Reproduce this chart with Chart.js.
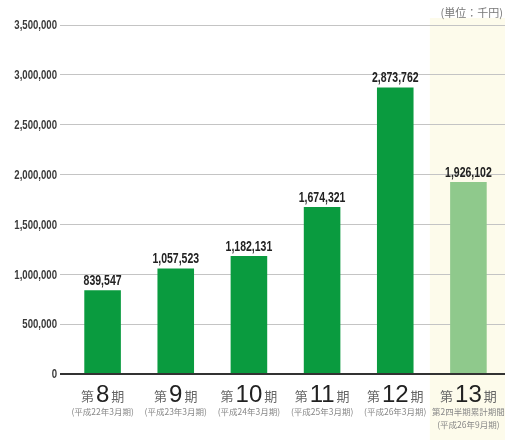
<!DOCTYPE html>
<html>
<head>
<meta charset="utf-8">
<script src="https://cdn.jsdelivr.net/npm/chart.js@4"></script>
<style>
  html, body { margin: 0; padding: 0; background: #fff; }
  #wrap { width: 505px; height: 440px; position: relative; }
</style>
</head>
<body>
<div id="wrap"><canvas id="c" width="505" height="440"></canvas></div>
<script>
// ── Data ──────────────────────────────────────────────────────────────────────
const periods   = ['8', '9', '10', '11', '12', '13'];
const subLabels = [
  ['(平成22年3月期)'],
  ['(平成23年3月期)'],
  ['(平成24年3月期)'],
  ['(平成25年3月期)'],
  ['(平成26年3月期)'],
  ['第2四半期累計期間', '(平成26年9月期)'],
];
const sales     = [839547, 1057523, 1182131, 1674321, 2873762, 1926102];
const barColors = ['#0a9b3f', '#0a9b3f', '#0a9b3f', '#0a9b3f', '#0a9b3f', '#8fc98c'];
const yTicks    = [0, 500000, 1000000, 1500000, 2000000, 2500000, 3000000, 3500000];
const unitLabel = '(単位：千円)';

const SANS = '"Liberation Sans", sans-serif';
const JP   = '"Noto Sans CJK JP", sans-serif';

// draw text squeezed horizontally (condensed look)
function narrowText(ctx, text, x, y, sx) {
  ctx.save();
  ctx.translate(x, y);
  ctx.scale(sx, 1);
  ctx.fillText(text, 0, 0);
  ctx.restore();
}

// ── Plugins ───────────────────────────────────────────────────────────────────
const bandPlugin = {
  id: 'band',
  beforeDraw(chart) {
    const { ctx, scales: { x } } = chart;
    const last = periods.length - 1;
    const half = (x.getPixelForValue(last) - x.getPixelForValue(last - 1)) / 2;
    ctx.save();
    ctx.fillStyle = '#fdfbeb';
    ctx.fillRect(x.getPixelForValue(last) - half - 2, 18, half * 2 + 12, chart.height);
    ctx.restore();
  },
};

const labelPlugin = {
  id: 'labels',
  afterDraw(chart) {
    const { ctx, scales: { x, y } } = chart;
    ctx.save();

    // y tick labels
    ctx.fillStyle = '#3a3a3a';
    ctx.font = 'bold 12px ' + SANS;
    ctx.textAlign = 'right';
    ctx.textBaseline = 'middle';
    yTicks.forEach(v => {
      narrowText(ctx, v.toLocaleString('en-US'), 57, y.getPixelForValue(v) + 1, 0.8);
    });

    // value labels above bars
    ctx.fillStyle = '#222';
    ctx.font = 'bold 15px ' + SANS;
    ctx.textAlign = 'center';
    ctx.textBaseline = 'bottom';
    sales.forEach((v, i) => {
      narrowText(ctx, v.toLocaleString('en-US'), x.getPixelForValue(i), y.getPixelForValue(v) - 2, 0.7);
    });

    // category labels: 第 N 期
    const base = y.getPixelForValue(0);
    periods.forEach((p, i) => {
      const cx = x.getPixelForValue(i);
      ctx.font = '13px ' + JP;
      const wK = ctx.measureText('第').width;
      ctx.font = '24px ' + SANS;
      const wN = ctx.measureText(p).width;
      const total = wK * 2 + wN + 4;
      let px = cx - total / 2;
      ctx.textAlign = 'left';
      ctx.textBaseline = 'alphabetic';
      ctx.fillStyle = '#666';
      ctx.font = '13px ' + JP;
      ctx.fillText('第', px, base + 27);
      px += wK + 2;
      ctx.fillStyle = '#222';
      ctx.font = '24px ' + SANS;
      ctx.fillText(p, px, base + 28);
      px += wN + 2;
      ctx.fillStyle = '#666';
      ctx.font = '13px ' + JP;
      ctx.fillText('期', px, base + 27);

      ctx.textAlign = 'center';
      ctx.fillStyle = '#888';
      ctx.font = '8.5px ' + JP;
      subLabels[i].forEach((s, j) => {
        ctx.fillText(s, cx, base + 41 + j * 13);
      });
    });

    // unit label
    ctx.textAlign = 'right';
    ctx.fillStyle = '#777';
    ctx.font = '11px ' + JP;
    ctx.fillText(unitLabel, 503, 17);

    ctx.restore();
  },
};

// ── Chart ─────────────────────────────────────────────────────────────────────
new Chart(document.getElementById('c').getContext('2d'), {
  type: 'bar',
  data: {
    labels: periods,
    datasets: [{
      data: sales,
      backgroundColor: barColors,
      borderWidth: 0,
      barPercentage: 0.5,
      categoryPercentage: 1,
    }],
  },
  options: {
    responsive: false,
    animation: false,
    layout: { padding: { top: 25, bottom: 0, left: 0, right: 0 } },
    plugins: { legend: { display: false }, tooltip: { enabled: false } },
    scales: {
      x: {
        grid: { display: false, drawTicks: false },
        border: { display: false },
        ticks: { display: false },
        afterFit: s => { s.height = 66; },
      },
      y: {
        min: 0,
        max: 3500000,
        ticks: {
          stepSize: 500000,
          color: 'rgba(0,0,0,0)',
          font: { size: 12 },
          padding: 2,
        },
        grid: {
          color: ctx => ctx.tick && ctx.tick.value === 0 ? '#333' : '#c4c4c4',
          lineWidth: ctx => ctx.tick && ctx.tick.value === 0 ? 2 : 1,
          tickLength: 6,
        },
        border: { display: false },
        afterFit: s => { s.width = 66; },
      },
    },
  },
  plugins: [bandPlugin, labelPlugin],
});
</script>
</body>
</html>
